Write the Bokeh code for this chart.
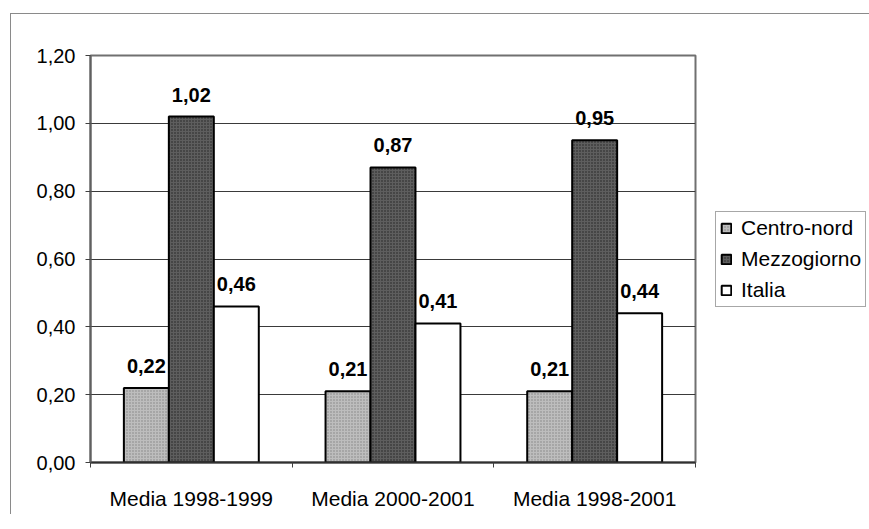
from bokeh.plotting import figure
from bokeh.models import (Range1d, FixedTicker, CustomJSTickFormatter, ColumnDataSource,
                          Legend, LegendItem, LabelSet)
from bokeh.core.properties import value
from bokeh.embed import file_html
from bokeh.resources import INLINE

categories = ["Media 1998-1999", "Media 2000-2001", "Media 1998-2001"]
series = ["Centro-nord", "Mezzogiorno", "Italia"]
centro_nord = [0.22, 0.21, 0.21]
mezzogiorno = [1.02, 0.87, 0.95]
italia = [0.46, 0.41, 0.44]
y_ticks = [0.0, 0.2, 0.4, 0.6, 0.8, 1.0, 1.2]

values = [centro_nord, mezzogiorno, italia]
fills = ["#bdbdbd", "#5e5e5e", "#ffffff"]
hatch_cols = ["#858585", "#222222", None]
bar_w = 0.223
offsets = [-bar_w, 0.0, bar_w]

FONT = "Liberation Sans"

p = figure(frame_width=605, frame_height=407, x_range=Range1d(0, 3), y_range=Range1d(0, 1.2),
           output_backend="svg", toolbar_location=None,
           min_border_left=79, min_border_top=41, min_border_right=150, min_border_bottom=52)
p.styles = {"margin-left": "10px", "margin-top": "13px",
            "border-left": "1px solid #8a8a8a", "border-top": "1px solid #8a8a8a"}
p.background_fill_color = "white"
p.border_fill_color = "white"
p.outline_line_color = "#707070"
p.outline_line_width = 2

p.xgrid.visible = False
p.ygrid.grid_line_color = "#3a3a3a"
p.ygrid.grid_line_width = 1

# y axis
p.yaxis.ticker = FixedTicker(ticks=y_ticks)
p.yaxis.formatter = CustomJSTickFormatter(code="return tick.toFixed(2).replace('.', ',');")
p.yaxis.major_label_text_font = FONT
p.yaxis.major_label_text_font_size = "20px"
p.yaxis.major_label_text_color = "black"
p.yaxis.axis_line_color = "#606060"
p.yaxis.axis_line_width = 2
p.yaxis.major_tick_line_color = "#404040"
p.yaxis.major_tick_in = 0
p.yaxis.major_tick_out = 5
p.yaxis.minor_tick_line_color = None
p.yaxis.major_label_standoff = 10

# x axis: labels at centers, ticks at boundaries
p.xaxis.ticker = FixedTicker(ticks=[i + 0.5 for i in range(len(categories))],
                             minor_ticks=list(range(len(categories) + 1)))
p.xaxis.formatter = CustomJSTickFormatter(args=dict(labels=categories),
                                          code="return labels[Math.floor(tick)];")
p.xaxis.major_label_text_font = FONT
p.xaxis.major_label_text_font_size = "21px"
p.xaxis.major_label_text_color = "black"
p.xaxis.axis_line_color = "#303030"
p.xaxis.axis_line_width = 2
p.xaxis.major_tick_line_color = None
p.xaxis.minor_tick_line_color = "#404040"
p.xaxis.minor_tick_in = 0
p.xaxis.minor_tick_out = 5
p.xaxis.major_label_standoff = 18

items = []
for s, vals, fc, hc, off in zip(series, values, fills, hatch_cols, offsets):
    src = ColumnDataSource(dict(x=[i + 0.5 + off for i in range(len(categories))], top=vals,
                                lbl=[f"{v:.2f}".replace(".", ",") for v in vals]))
    kw = {}
    if hc:
        kw = dict(hatch_pattern="dot", hatch_color=hc, hatch_scale=3, hatch_weight=1)
    r = p.vbar(x="x", top="top", width=bar_w, bottom=0, source=src, fill_color=fc,
               line_color="black", line_width=2, **kw)
    items.append(LegendItem(label=s, renderers=[r]))
    labels = LabelSet(x="x", y="top", text="lbl", source=src, text_align="center",
                      text_baseline="bottom", y_offset=15, text_font=value(FONT),
                      text_font_size=value("20px"), text_font_style="bold", text_color="black")
    p.add_layout(labels)

legend = Legend(items=items, location="center_left")
legend.label_text_font = FONT
legend.label_text_font_size = "21px"
legend.label_text_color = "black"
legend.glyph_width = 12
legend.glyph_height = 12
legend.label_height = 20
legend.spacing = 7
legend.padding = 4
legend.label_standoff = 9
legend.margin = 20
legend.border_line_color = "#505050"
legend.border_line_width = 1
legend.background_fill_alpha = 1
p.add_layout(legend, "right")

open("out.html", "w").write(file_html(p, INLINE))
